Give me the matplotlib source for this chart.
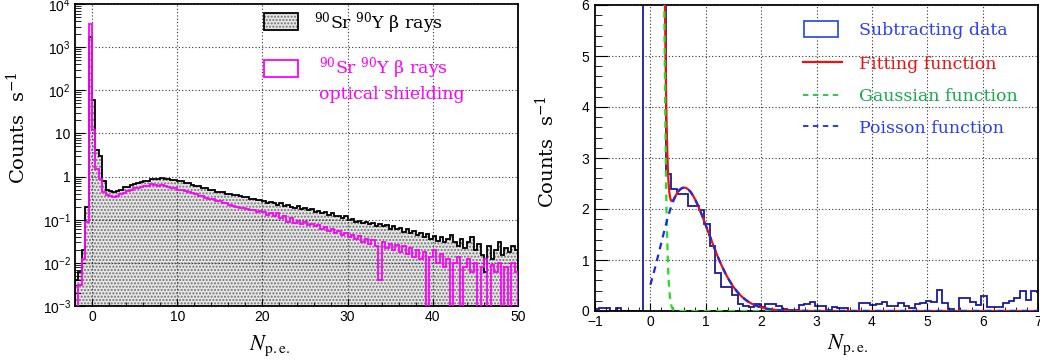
import math
import numpy as np
import matplotlib
matplotlib.use("Agg")
import matplotlib.pyplot as plt
from matplotlib.patches import Rectangle
from matplotlib.lines import Line2D
from matplotlib.ticker import MultipleLocator, LogLocator, FuncFormatter, NullFormatter

plt.rcParams['font.family'] = ['Liberation Sans', 'DejaVu Sans']
plt.rcParams['mathtext.fontset'] = 'custom'
plt.rcParams['mathtext.rm'] = 'Liberation Sans'
plt.rcParams['mathtext.it'] = 'Liberation Sans:italic'
plt.rcParams['mathtext.bf'] = 'Liberation Sans:bold'

# left panel: 90Sr/90Y spectrum, 0.4 p.e. bins from -2 to 50
sr_bin_start = -2.0
sr_bin_width = 0.4
sr_counts = [
    0.004, 0.006, 0.02, 0.2, 1700, 60, 4.2, 3.0, 0.8, 0.5,
    0.46, 0.43, 0.47, 0.5, 0.56, 0.58, 0.63, 0.67, 0.72, 0.74,
    0.8, 0.8, 0.88, 0.9, 0.86, 0.91, 0.87, 0.89, 0.84, 0.84,
    0.79, 0.77, 0.71, 0.7, 0.65, 0.61, 0.6, 0.55, 0.55, 0.5,
    0.49, 0.45, 0.43, 0.43, 0.4, 0.4, 0.37, 0.38, 0.35, 0.33,
    0.34, 0.31, 0.31, 0.28, 0.28,
    0.27, 0.25, 0.26, 0.24, 0.22, 0.24, 0.21, 0.22, 0.20, 0.19,
    0.21, 0.18, 0.19, 0.17, 0.18, 0.15, 0.16, 0.14, 0.15, 0.13,
    0.14, 0.12, 0.125, 0.11, 0.12, 0.10, 0.105, 0.09, 0.095, 0.085,
    0.09, 0.078, 0.085, 0.072, 0.08, 0.07, 0.075, 0.062, 0.07, 0.06,
    0.065, 0.052, 0.06, 0.048, 0.055, 0.045, 0.05, 0.04, 0.046, 0.035,
    0.042, 0.032, 0.04, 0.03, 0.036, 0.045, 0.03, 0.025, 0.035, 0.022,
    0.03, 0.04, 0.02, 0.028, 0.015, 0.006, 0.025, 0.012, 0.02, 0.03,
    0.015, 0.022, 0.018, 0.025, 0.02,
]
shield_counts = [
    0.0, 0.003, 0.012, 0.09, 3500, 12, 1.5, 0.9, 0.45, 0.38,
    0.35, 0.33, 0.35, 0.4, 0.42, 0.46, 0.49, 0.53, 0.54, 0.58,
    0.6, 0.61, 0.66, 0.65, 0.62, 0.64, 0.59, 0.58, 0.55, 0.54,
    0.5, 0.5, 0.46, 0.45, 0.41, 0.4, 0.36, 0.35, 0.32, 0.31,
    0.3, 0.27, 0.27, 0.24, 0.24, 0.22, 0.21, 0.2, 0.19, 0.19,
    0.18, 0.17, 0.17, 0.15, 0.16,
    0.15, 0.13, 0.14, 0.12, 0.14, 0.11, 0.12, 0.09, 0.11, 0.085,
    0.095, 0.08, 0.09, 0.075, 0.08, 0.07, 0.075, 0.06, 0.068, 0.055,
    0.062, 0.05, 0.055, 0.045, 0.05, 0.04, 0.045, 0.035, 0.042, 0.03,
    0.036, 0.028, 0.034, 0.025, 0.004, 0.03, 0.022, 0.028, 0.02, 0.026,
    0.018, 0.024, 0.016, 0.022, 0.014, 0.02, 0.012, 0.018, 0.0, 0.014,
    0.02, 0.01, 0.016, 0.008, 0.012, 0.0, 0.01, 0.014, 0.0, 0.008,
    0.012, 0.006, 0.01, 0.0, 0.008, 0.012, 0.0, 0.009, 0.006, 0.01,
    0.0, 0.008, 0.0, 0.01, 0.006,
]

# right panel: subtracted spectrum, 0.1 p.e. bins
sub_bin_start = -1.025
sub_bin_width = 0.1
sub_counts = [
    0.03, 0.06, 0.06, 0.0, 0.06, 0.0, 0.0, 0.0, 0.0, 30.0,
    120.0, 60.0, 9.0, 2.68, 2.39, 2.29, 2.29, 2.05, 2.05, 1.98,
    1.70, 1.27, 0.75, 0.48, 0.48, 0.32, 0.13, 0.10, 0.08, 0.13,
    0.08, 0.13, 0.14, 0.10, 0.04, 0.02, 0.02, 0.12, 0.13, 0.17,
    0.10, 0.09, 0.02, 0.07, 0.06, 0.05, 0.0, 0.0, 0.16, 0.16,
    0.12, 0.14, 0.18, 0.10, 0.10, 0.16, 0.09, 0.06, 0.14, 0.15,
    0.19, 0.17, 0.42, 0.16, 0.03, 0.0, 0.25, 0.25, 0.18, 0.12,
    0.30, 0.07, 0.08, 0.08, 0.15, 0.20, 0.25, 0.40, 0.22, 0.40,
    0.38,
]

# fit results
gauss_amp, gauss_mean, gauss_sigma = 140.0, 0.0, 0.1
pois_amp, pois_lambda, pois_gain = 10.36, 3.0, 0.245
fit_range = (0.0, 7.0)


def gauss_func(x):
    return gauss_amp * np.exp(-(x - gauss_mean) ** 2 / (2 * gauss_sigma ** 2))


def pois_func(x):
    t = x / pois_gain
    lg = np.array([math.lgamma(v + 1) for v in t])
    return pois_amp * np.exp(t * math.log(pois_lambda) - pois_lambda - lg)


serif = 'DejaVu Serif'
grid_style = dict(linestyle=(0, (1, 2)), color='#333333', linewidth=0.8)

fig = plt.figure(figsize=(10.4, 3.62), dpi=100)
ax1 = fig.add_axes([75 / 1040, 56 / 362, 443 / 1040, 302 / 362])
ax2 = fig.add_axes([595 / 1040, 51 / 362, 443 / 1040, 306 / 362])

# ---- left panel
edges1 = sr_bin_start + sr_bin_width * np.arange(len(sr_counts) + 1)
ax1.stairs(sr_counts, edges1, baseline=0, fill=True, facecolor='#e6e6e6',
           edgecolor='#707070', linewidth=0, hatch='.....', zorder=1)
ax1.stairs(sr_counts, edges1, baseline=0, color='black', linewidth=1.3, zorder=2)
ax1.stairs(shield_counts, edges1, baseline=0, color='#ff00ff', linewidth=1.3, zorder=3)
ax1.set_yscale('log')
ax1.set_xlim(-2, 50)
ax1.set_ylim(1e-3, 1e4)
ax1.xaxis.set_major_locator(MultipleLocator(10))
ax1.xaxis.set_minor_locator(MultipleLocator(2))
ax1.yaxis.set_major_locator(LogLocator(base=10, numticks=20))
ax1.yaxis.set_minor_locator(LogLocator(base=10, subs=np.arange(2, 10), numticks=20))
ax1.yaxis.set_minor_formatter(NullFormatter())


def log_label(v, pos):
    e = int(round(math.log10(v)))
    if e == 0:
        return '1'
    if e == 1:
        return '10'
    return r'$10^{%d}$' % e


ax1.yaxis.set_major_formatter(FuncFormatter(log_label))
ax1.tick_params(which='both', direction='in', top=False, right=False, labelsize=10)
ax1.tick_params(axis='y', which='major', length=7, pad=3)
ax1.tick_params(axis='y', which='minor', length=4)
ax1.tick_params(axis='x', which='major', length=5, pad=3)
ax1.tick_params(axis='x', which='minor', length=3)
ax1.grid(True, which='major', **grid_style)
ax1.set_axisbelow(False)
for s in ax1.spines.values():
    s.set_linewidth(1.3)

ax1.set_ylabel('Counts  s$^{-1}$', fontfamily=serif, math_fontfamily='dejavuserif', fontsize=14)
ax1.yaxis.set_label_coords(-0.104, 0.59)
ax1.set_xlabel(r'$N_{\mathrm{p.e.}}$', math_fontfamily='stix', fontsize=16)
ax1.xaxis.set_label_coords(0.44, -0.09)

# legend (left)
ax1.add_patch(Rectangle((0.4266, 0.914), 0.0767, 0.0563, transform=ax1.transAxes,
                        facecolor='#e6e6e6', edgecolor='#707070', hatch='.....', linewidth=0, zorder=5))
ax1.add_patch(Rectangle((0.4266, 0.914), 0.0767, 0.0563, transform=ax1.transAxes,
                        facecolor='none', edgecolor='black', linewidth=1.3, zorder=6))
ax1.text(0.5395, 0.937, r'$^{90}$Sr $^{90}$Y β rays', transform=ax1.transAxes, fontfamily=serif,
         math_fontfamily='dejavuserif', fontsize=12.5, va='center', ha='left', color='black')
ax1.add_patch(Rectangle((0.4266, 0.758), 0.0767, 0.0563, transform=ax1.transAxes,
                        facecolor='white', edgecolor='#ff00ff', linewidth=1.3, zorder=6))
ax1.text(0.551, 0.788, r'$^{90}$Sr $^{90}$Y β rays', transform=ax1.transAxes, fontfamily=serif,
         math_fontfamily='dejavuserif', fontsize=12.5, va='center', ha='left', color='#ff00ff')
ax1.text(0.551, 0.699, 'optical shielding', transform=ax1.transAxes, fontfamily=serif,
         fontsize=12.5, va='center', ha='left', color='#ff00ff')

# ---- right panel
edges2 = sub_bin_start + sub_bin_width * np.arange(len(sub_counts) + 1)
ax2.stairs(sub_counts, edges2, baseline=0, color='#1a1a99', linewidth=1.3, zorder=2)
xf = np.linspace(fit_range[0], fit_range[1], 1400)
ax2.plot(xf, gauss_func(xf) + pois_func(xf), color='#ee1111', linewidth=1.6, zorder=3)
ax2.plot(xf, gauss_func(xf), color='#22dd22', linewidth=1.6, linestyle=(0, (3, 2.5)), zorder=4)
ax2.plot(xf, pois_func(xf), color='#1a2ae6', linewidth=1.6, linestyle=(0, (3, 2.5)), zorder=5)
ax2.set_xlim(-1, 7)
ax2.set_ylim(0, 6)
ax2.xaxis.set_major_locator(MultipleLocator(1))
ax2.xaxis.set_minor_locator(MultipleLocator(0.2))
ax2.yaxis.set_major_locator(MultipleLocator(1))
ax2.yaxis.set_minor_locator(MultipleLocator(0.2))
ax2.tick_params(which='both', direction='in', top=False, right=False, labelsize=10)
ax2.tick_params(axis='y', which='major', length=9, pad=4)
ax2.tick_params(axis='y', which='minor', length=5)
ax2.tick_params(axis='x', which='major', length=6, pad=3)
ax2.tick_params(axis='x', which='minor', length=3)
ax2.grid(True, which='major', **grid_style)
ax2.set_axisbelow(False)
for s in ax2.spines.values():
    s.set_linewidth(1.3)

ax2.set_ylabel('Counts  s$^{-1}$', fontfamily=serif, math_fontfamily='dejavuserif', fontsize=14)
ax2.yaxis.set_label_coords(-0.085, 0.52)
ax2.set_xlabel(r'$N_{\mathrm{p.e.}}$', math_fontfamily='stix', fontsize=16)
ax2.xaxis.set_label_coords(0.57, -0.07)

# legend (right)
ax2.add_patch(Rectangle((0.4718, 0.895), 0.0767, 0.0523, transform=ax2.transAxes,
                        facecolor='white', edgecolor='#3355dd', linewidth=1.3, zorder=6))
ax2.add_line(Line2D([0.469, 0.557], [0.814, 0.814], transform=ax2.transAxes,
                    color='#ee1111', linewidth=1.6, zorder=6))
ax2.add_line(Line2D([0.469, 0.553], [0.706, 0.706], transform=ax2.transAxes,
                    color='#22c040', linewidth=1.3, linestyle=(0, (3, 2.5)), zorder=6))
ax2.add_line(Line2D([0.469, 0.553], [0.605, 0.605], transform=ax2.transAxes,
                    color='#1a2ae6', linewidth=1.3, linestyle=(0, (3, 2.5)), zorder=6))
legend_rows = [('Subtracting data', '#2b40f0', 0.918), ('Fitting function', '#ee1111', 0.804),
               ('Gaussian function', '#1aa850', 0.70), ('Poisson function', '#2b40f0', 0.598)]
for txt, col, yy in legend_rows:
    ax2.text(0.596, yy, txt, transform=ax2.transAxes, fontfamily=serif, fontsize=12.5,
             va='center', ha='left', color=col, zorder=7)

fig.savefig('out.png', dpi=100)
